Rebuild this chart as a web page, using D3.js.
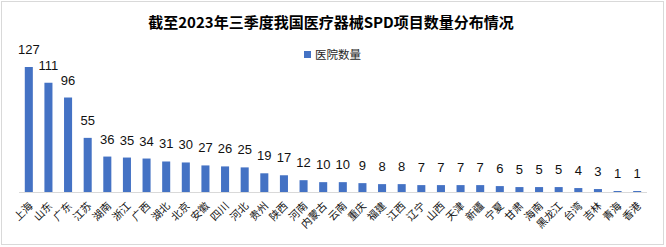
<!DOCTYPE html>
<html>
<head>
<meta charset="utf-8">
<script src="https://cdn.jsdelivr.net/npm/d3@7/dist/d3.min.js"></script>
<style>
html,body{margin:0;padding:0;background:#fff;}
svg{display:block;}
</style>
</head>
<body>
<svg id="chart" width="666" height="247"></svg>
<script>
const titleText = "截至2023年三季度我国医疗器械SPD项目数量分布情况";
const seriesName = "医院数量";
const categories = ["上海","山东","广东","江苏","湖南","浙江","广西","湖北","北京","安徽","四川","河北","贵州","陕西","河南","内蒙古","云南","重庆","福建","江西","辽宁","山西","天津","新疆","宁夏","甘肃","海南","黑龙江","台湾","吉林","青海","香港"];
const values = [127,111,96,55,36,35,34,31,30,27,26,25,19,17,12,10,10,9,8,8,7,7,7,7,6,5,5,5,4,3,1,1];

const svg = d3.select("#chart");
const W = 666, H = 247;
const cjk = "'Noto Sans CJK SC','Noto Sans',sans-serif";
const num = "'Liberation Sans',Arial,sans-serif";

svg.append("rect").attr("x",1.5).attr("y",1.5).attr("width",662).attr("height",243)
  .attr("fill","#fff").attr("stroke","#d9d9d9").attr("stroke-width",1);

const x = d3.scaleBand().domain(categories).range([19,647]).paddingInner(0.59).paddingOuter(0.295);
const y = d3.scaleLinear().domain([0,127]).range([192,67]);

svg.append("text").attr("x",331).attr("y",28).attr("text-anchor","middle")
  .attr("font-family",cjk).attr("font-weight","bold").attr("font-size",15).attr("fill","#000")
  .text(titleText);

// legend
svg.append("rect").attr("x",304).attr("y",51).attr("width",7).attr("height",7).attr("fill","#4472C4");
svg.append("text").attr("x",315).attr("y",59).attr("font-family",cjk).attr("font-size",11.5).attr("fill","#262626").text(seriesName);

const data = categories.map((c,i)=>({c, v: values[i]}));

svg.append("g").selectAll("rect").data(data).join("rect")
  .attr("x",d=>x(d.c)).attr("width",x.bandwidth())
  .attr("y",d=>y(d.v)).attr("height",d=>y(0)-y(d.v))
  .attr("fill","#4472C4");

svg.append("g").selectAll("text").data(data).join("text")
  .attr("x",d=>x(d.c)+x.bandwidth()/2).attr("y",d=>y(d.v)-13)
  .attr("text-anchor","middle").attr("font-family",num).attr("font-size",13).attr("fill","#111")
  .text(d=>d.v);

// x axis
const xAxis = d3.axisBottom(x).tickSize(0).tickPadding(0);
const gx = svg.append("g").attr("transform","translate(0,192)").call(xAxis);
gx.select(".domain").attr("stroke","#d9d9d9").attr("stroke-width",1).attr("d","M19,0.5H647");
gx.selectAll(".tick text")
  .attr("font-family",cjk).attr("font-size",10.5).attr("fill","#111")
  .attr("text-anchor","end")
  .attr("transform","translate(2,12) rotate(-45)")
  .attr("dy","0.35em").attr("y",0).attr("x",0);
</script>
</body>
</html>
